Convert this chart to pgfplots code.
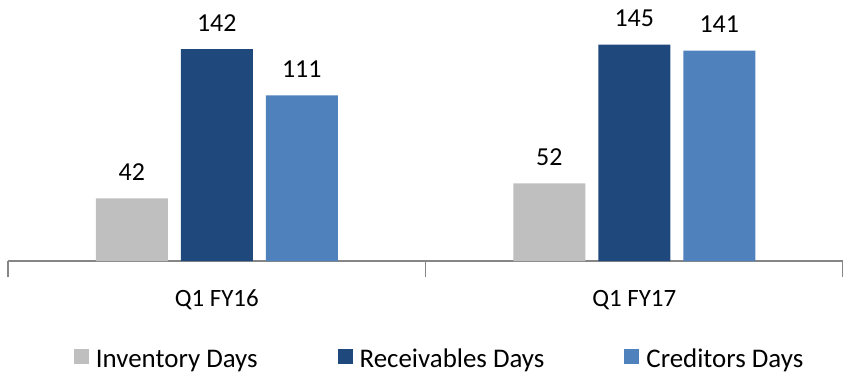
\documentclass[border=0pt]{standalone}
\usepackage{pgfplots}
\pgfplotsset{compat=1.18}
\usepackage{fontspec}
\setmainfont{Carlito}
\definecolor{invgray}{HTML}{BFBFBF}
\definecolor{recblue}{HTML}{1F497D}
\definecolor{credblue}{HTML}{4F81BD}
\definecolor{axgray}{HTML}{868686}
\begin{document}
\begin{tikzpicture}[x=1bp,y=1bp]
\useasboundingbox (0,0) rectangle (843,377);
\begin{axis}[
  at={(8bp,116bp)}, anchor=south west,
  scale only axis, width=835bp, height=261bp,
  ymin=0, ymax=175, xmin=-0.5, xmax=1.5,
  /pgf/number format/assume math mode=true,
  axis y line=none,
  axis x line*=bottom,
  x axis line style={draw=axgray, line width=1.5bp, -},
  xtick={-0.5,0.5,1.5}, xticklabels={},
  major x tick style={draw=axgray, line width=1.5bp},
  major tick length=16bp, tick align=center,
  extra x ticks={0,1}, extra x tick labels={Q1 FY16, Q1 FY17},
  extra x tick style={major tick length=0pt, tick style={draw=none}},
  xticklabel style={font=\fontsize{25}{30}\selectfont, anchor=base, inner sep=0pt, yshift=-45bp},
  ybar=13bp, bar width=72bp,
  nodes near coords,
  every node near coord/.append style={font=\fontsize{26}{30}\selectfont, black, anchor=base, inner sep=0pt, yshift=18bp},
  legend style={at={(rel axis cs:0.079,-0.377)}, anchor=west, draw=none, legend columns=3,
    inner sep=0pt, outer sep=0pt,
    font=\fontsize{27}{30}\selectfont,
    nodes={inner xsep=7bp, inner ysep=0pt},
    /tikz/every even column/.append style={column sep=73bp}},
  legend image code/.code={\fill[#1] (0bp,-5bp) rectangle (15bp,10bp);},
]
\addplot[fill=invgray, draw=none] coordinates {(0,42) (1,52)};
\addplot[fill=recblue, draw=none] coordinates {(0,142) (1,145)};
\addplot[fill=credblue, draw=none] coordinates {(0,111) (1,141)};
\legend{Inventory Days, Receivables Days, Creditors Days}
\end{axis}
\end{tikzpicture}
\end{document}
